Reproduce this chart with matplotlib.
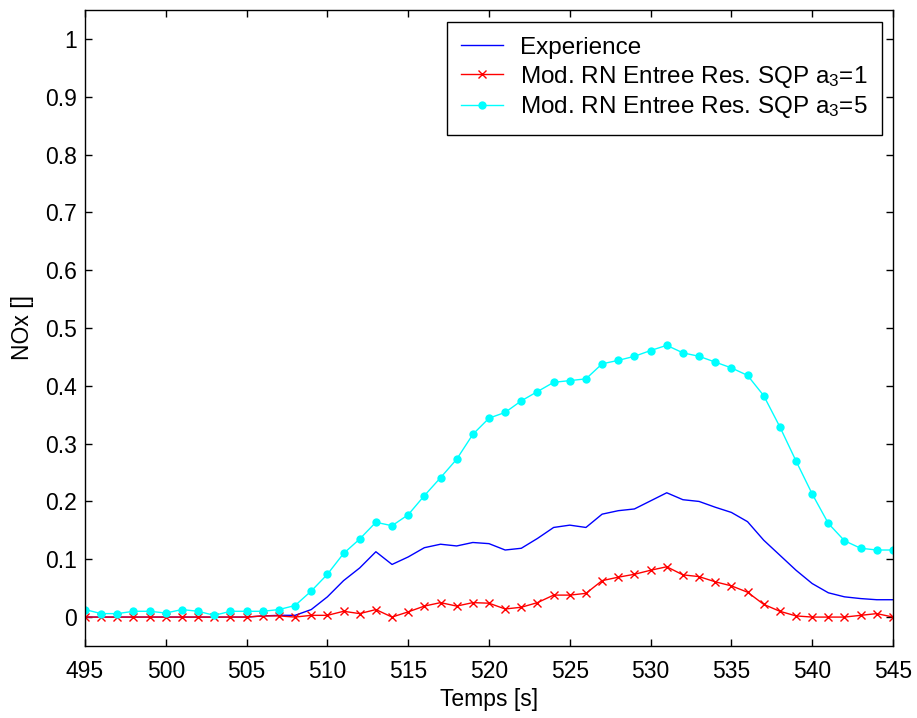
import numpy as np
import matplotlib
matplotlib.use("Agg")
import matplotlib.pyplot as plt
from matplotlib.ticker import FormatStrFormatter

plt.rcParams['font.family'] = ['Liberation Sans', 'DejaVu Sans']
plt.rcParams['mathtext.fontset'] = 'custom'
plt.rcParams['mathtext.rm'] = 'Liberation Sans'
plt.rcParams['mathtext.it'] = 'Liberation Sans'
plt.rcParams['mathtext.default'] = 'regular'

temps = np.arange(495, 546)

experience = [0, 0, 0, 0, 0, 0, 0, 0, 0, 0, 0,
              0.002, 0.003, 0.003, 0.013, 0.035, 0.063, 0.085, 0.113, 0.091, 0.104,
              0.120, 0.126, 0.123, 0.129, 0.127, 0.116, 0.119, 0.136, 0.155, 0.159,
              0.155, 0.178, 0.184, 0.187, 0.201, 0.215, 0.203, 0.200, 0.190, 0.181,
              0.165, 0.133, 0.107, 0.081, 0.058, 0.042, 0.035, 0.032, 0.030, 0.030]

sqp_a1 = [0, 0, 0, 0, 0, 0, 0, 0, 0, 0, 0,
          0.002, 0.002, 0.0, 0.003, 0.003, 0.010, 0.006, 0.013, 0.0, 0.009,
          0.019, 0.025, 0.019, 0.025, 0.024, 0.014, 0.017, 0.025, 0.038, 0.038,
          0.041, 0.063, 0.069, 0.074, 0.081, 0.087, 0.073, 0.070, 0.061, 0.054,
          0.043, 0.022, 0.010, 0.002, 0.0, 0.0, 0.0, 0.003, 0.006, 0.0]

sqp_a5 = [0.013, 0.006, 0.006, 0.010, 0.010, 0.007, 0.013, 0.010, 0.003, 0.010, 0.010,
          0.010, 0.013, 0.020, 0.045, 0.074, 0.110, 0.135, 0.164, 0.158, 0.177,
          0.210, 0.241, 0.273, 0.316, 0.344, 0.354, 0.374, 0.390, 0.406, 0.409,
          0.412, 0.438, 0.444, 0.451, 0.461, 0.470, 0.457, 0.451, 0.441, 0.431,
          0.418, 0.383, 0.329, 0.270, 0.213, 0.162, 0.132, 0.119, 0.116, 0.116]

labels = ['Experience',
          'Mod. RN Entree Res. SQP a$_3$=1',
          'Mod. RN Entree Res. SQP a$_3$=5']

fs = 16.5
fs_leg = 17.5

fig = plt.figure(figsize=(9.17, 7.18), dpi=100)
ax = fig.add_axes([0.0927, 0.1003, 0.8811, 0.8858])

ax.plot(temps, experience, color='#0000ff', lw=1.0, label=labels[0])
ax.plot(temps, sqp_a1, color='#ff0000', lw=1.0, marker='x', markersize=6,
        markeredgewidth=1.0, label=labels[1])
ax.plot(temps, sqp_a5, color='#00ffff', lw=1.0, marker='o', markersize=6,
        markeredgewidth=0, label=labels[2])

ax.set_xlim(495, 545)
ax.set_ylim(-0.05, 1.05)
ax.set_xticks(np.arange(495, 546, 5))
ax.set_yticks(np.arange(0, 1.01, 0.1))
ax.yaxis.set_major_formatter(FormatStrFormatter('%g'))
ax.tick_params(direction='in', top=True, right=True, length=5, width=1,
               labelsize=fs)
ax.tick_params(axis='x', pad=10)
ax.tick_params(axis='y', pad=6)
for s in ax.spines.values():
    s.set_linewidth(1.0)

ax.set_xlabel('Temps [s]', fontsize=fs, labelpad=4)
ax.set_ylabel('NOx []', fontsize=fs, labelpad=8)

leg = ax.legend(loc='upper right', fontsize=fs_leg, frameon=True, fancybox=False,
                edgecolor='black', framealpha=1, handlelength=1.7,
                handletextpad=0.7, labelspacing=0.2, borderpad=0.6,
                borderaxespad=0, bbox_to_anchor=(0.9864, 0.981))
leg.get_frame().set_linewidth(1.0)

fig.savefig('out.png', dpi=100)
